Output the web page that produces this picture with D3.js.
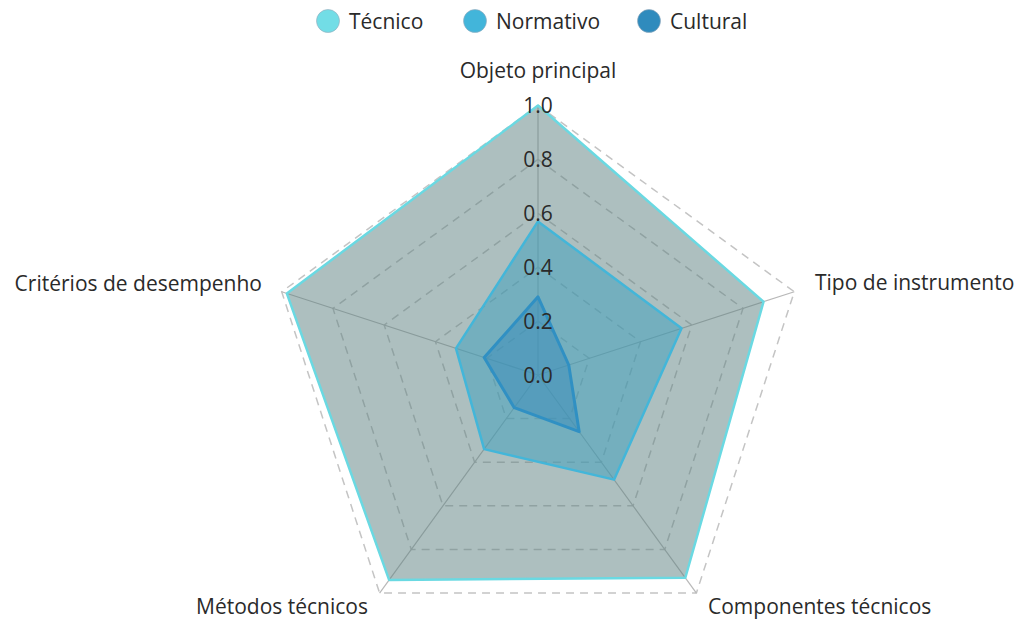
<!DOCTYPE html>
<html>
<head>
<meta charset="utf-8">
<script src="https://cdn.jsdelivr.net/npm/d3@7"></script>
<style>
  body { margin: 0; background: #fff; }
  svg text { font-family: "Open Sans", "Noto Sans", sans-serif; fill: #2a2a2a; }
</style>
</head>
<body>
<div id="chart"></div>
<script>
// data
const axes = ["Objeto principal", "Tipo de instrumento", "Componentes técnicos", "Métodos técnicos", "Critérios de desempenho"];
const seriesNames = ["Técnico", "Normativo", "Cultural"];
const tecnico = [1.0, 0.88, 0.93, 0.94, 0.98];
const normativo = [0.57, 0.56, 0.48, 0.34, 0.32];
const cultural = [0.29, 0.12, 0.26, 0.15, 0.21];
const ticks = [0.0, 0.2, 0.4, 0.6, 0.8, 1.0];

const width = 1019, height = 621;
const cx = 538, cy = 375;

const svg = d3.select("#chart").append("svg")
  .attr("width", width)
  .attr("height", height);

const r = d3.scaleLinear().domain([0, 1]).range([0, 269.5]);
const angle = d3.scaleLinear().domain([0, axes.length]).range([0, 2 * Math.PI]);

const pt = (i, v) => [cx + r(v) * Math.sin(angle(i)), cy - r(v) * Math.cos(angle(i))];

const g = svg.append("g");

// dashed grid pentagons
g.selectAll(".grid")
  .data(ticks.slice(1))
  .enter().append("polygon")
  .attr("class", "grid")
  .attr("points", t => axes.map((a, i) => pt(i, t).join(",")).join(" "))
  .attr("fill", "none")
  .attr("stroke", "#c4c4c4")
  .attr("stroke-width", 1.5)
  .attr("stroke-dasharray", "8,6");

// spokes
g.selectAll(".spoke")
  .data(axes)
  .enter().append("line")
  .attr("class", "spoke")
  .attr("x1", cx).attr("y1", cy)
  .attr("x2", (a, i) => pt(i, 1)[0])
  .attr("y2", (a, i) => pt(i, 1)[1])
  .attr("stroke", "#b8b8b8")
  .attr("stroke-width", 1.2);

const series = [
  { name: seriesNames[0], values: tecnico, line: "#6ad9e2", fill: "rgba(92,128,128,0.5)", w: 2.5, legend: "#72dde6" },
  { name: seriesNames[1], values: normativo, line: "#43b6d9", fill: "rgba(60,160,190,0.5)", w: 2.5, legend: "#42b5da" },
  { name: seriesNames[2], values: cultural, line: "#3090c3", fill: "rgba(55,140,185,0.5)", w: 3, legend: "#2f8bbd" }
];

const line = d3.line().curve(d3.curveLinearClosed);

g.selectAll(".area")
  .data(series)
  .enter().append("path")
  .attr("class", "area")
  .attr("d", s => line(s.values.map((v, i) => pt(i, v))))
  .attr("fill", s => s.fill)
  .attr("stroke", s => s.line)
  .attr("stroke-width", s => s.w)
  .attr("stroke-linejoin", "round");

// radial tick labels
g.selectAll(".tick")
  .data(ticks)
  .enter().append("text")
  .attr("x", cx)
  .attr("y", t => cy - r(t))
  .attr("dy", "0.36em")
  .attr("text-anchor", "middle")
  .style("font-size", "21px")
  .text(t => t.toFixed(1));

// axis labels
const labelPos = [
  { x: 538, y: 70, anchor: "middle" },
  { x: 815, y: 282, anchor: "start" },
  { x: 708, y: 606, anchor: "start" },
  { x: 368, y: 606, anchor: "end" },
  { x: 262, y: 283, anchor: "end" }
];
svg.selectAll(".axislabel")
  .data(axes)
  .enter().append("text")
  .attr("x", (a, i) => labelPos[i].x)
  .attr("y", (a, i) => labelPos[i].y)
  .attr("dy", "0.36em")
  .attr("text-anchor", (a, i) => labelPos[i].anchor)
  .style("font-size", "21px")
  .text(a => a);

// legend
const legendX = [328, 475, 649];
const leg = svg.selectAll(".legend")
  .data(series)
  .enter().append("g")
  .attr("transform", (s, i) => `translate(${legendX[i]},21)`);
leg.append("circle")
  .attr("r", 11.5)
  .attr("fill", s => s.legend)
  .attr("stroke", "#9ab")
  .attr("stroke-width", 0.6);
leg.append("text")
  .attr("x", 21)
  .attr("dy", "0.36em")
  .style("font-size", "21px")
  .text(s => s.name);
</script>
</body>
</html>
